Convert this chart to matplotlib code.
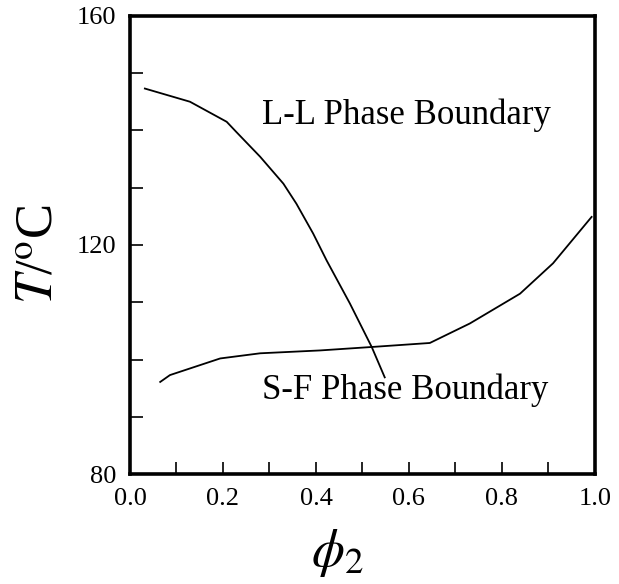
import matplotlib

matplotlib.use("Agg")
import matplotlib.pyplot as plt
from matplotlib.ticker import MultipleLocator

plt.rcParams["font.family"] = ["Liberation Serif", "DejaVu Serif"]
plt.rcParams["mathtext.fontset"] = "stix"

# L-L phase boundary
ll_phi = [0.032, 0.129, 0.208, 0.229, 0.280, 0.330, 0.358, 0.394, 0.423, 0.473, 0.520, 0.548]
ll_temp = [147.3, 145.0, 141.5, 139.7, 135.4, 130.7, 127.2, 122.0, 117.3, 109.8, 102.2, 96.9]

# S-F phase boundary
sf_phi = [0.065, 0.086, 0.194, 0.280, 0.409, 0.520, 0.645, 0.731, 0.839, 0.910, 0.993]
sf_temp = [96.1, 97.3, 100.2, 101.1, 101.6, 102.2, 102.9, 106.3, 111.5, 116.8, 124.9]

x_labels = [0.0, 0.2, 0.4, 0.6, 0.8, 1.0]
y_labels = [80, 120, 160]

fig = plt.figure(figsize=(6.19, 5.84), dpi=100)
ax = fig.add_axes([0.210, 0.188, 0.751, 0.785])

ax.plot(ll_phi, ll_temp, color="black", lw=1.3)
ax.plot(sf_phi, sf_temp, color="black", lw=1.3)

ax.text(0.283, 142.6, "L-L Phase Boundary", fontsize=25, va="center", ha="left")
ax.text(0.283, 94.7, "S-F Phase Boundary", fontsize=25, va="center", ha="left")

ax.set_xlim(0.0, 1.0)
ax.set_ylim(80, 160)
ax.set_xticks(x_labels, labels=[f"{v:.1f}" for v in x_labels])
ax.set_yticks(y_labels, labels=[str(v) for v in y_labels])
ax.xaxis.set_minor_locator(MultipleLocator(0.1))
ax.yaxis.set_minor_locator(MultipleLocator(10))
ax.tick_params(which="both", direction="in", length=9, width=1.2,
               top=False, right=False, labelsize=19, pad=10)

for spine in ax.spines.values():
    spine.set_linewidth(2.6)

ax.set_xlabel(r"$\phi_2$", fontsize=38)
ax.xaxis.set_label_coords(0.447, -0.115)
ax.set_ylabel(r"$T$/$^{\rm o}$C", fontsize=38)
ax.yaxis.set_label_coords(-0.143, 0.48)

fig.savefig("out.png", dpi=100)
